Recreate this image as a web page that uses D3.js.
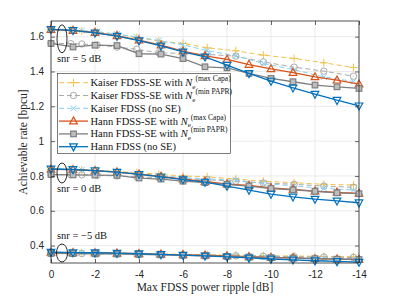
<!DOCTYPE html>
<html>
<head>
<meta charset="utf-8">
<script src="https://cdn.jsdelivr.net/npm/d3@7"></script>
<style>
  body { margin: 0; background: #fff; }
  svg { display: block; }
</style>
</head>
<body>
<div id="chart"></div>
<script>
"use strict";
// x values (max FDSS power ripple in dB)
const hannX = [0, -1, -2, -3, -4, -5, -6, -7, -8, -9, -10, -11, -12, -13, -14]
const kaiserX = [0, -0.9, -1.4, -2.1, -3.0, -3.9, -4.9, -6.0, -7.1, -8.4, -9.65, -11.05, -12.4, -13.75]

// snr = 5 dB
const hannMaxCapa5 = [1.641, 1.635, 1.624, 1.605, 1.58, 1.551, 1.517, 1.49, 1.469, 1.44, 1.415, 1.394, 1.369, 1.35, 1.327]
const hannMinPapr5 = [1.561, 1.541, 1.551, 1.549, 1.502, 1.5, 1.474, 1.427, 1.421, 1.389, 1.36, 1.341, 1.322, 1.312, 1.303]
const hannNoSE5 = [1.642, 1.636, 1.622, 1.603, 1.577, 1.547, 1.512, 1.484, 1.436, 1.389, 1.345, 1.306, 1.27, 1.235, 1.203]
const kaiserMaxCapa5 = [1.642, 1.638, 1.633, 1.626, 1.612, 1.595, 1.576, 1.561, 1.536, 1.519, 1.494, 1.475, 1.45, 1.423]
const kaiserMinPapr5 = [1.562, 1.56, 1.558, 1.552, 1.54, 1.528, 1.507, 1.504, 1.498, 1.488, 1.455, 1.425, 1.402, 1.373]
const kaiserNoSE5 = [1.645, 1.64, 1.635, 1.628, 1.615, 1.598, 1.578, 1.553, 1.52, 1.49, 1.446, 1.41, 1.369, 1.343]

// snr = 0 dB
const hannMaxCapa0 = [0.838, 0.836, 0.83, 0.822, 0.81, 0.797, 0.782, 0.768, 0.753, 0.746, 0.732, 0.723, 0.713, 0.706, 0.70]
const hannMinPapr0 = [0.808, 0.806, 0.805, 0.803, 0.788, 0.782, 0.77, 0.762, 0.752, 0.742, 0.728, 0.72, 0.712, 0.703, 0.698]
const hannNoSE0 = [0.84, 0.837, 0.831, 0.822, 0.809, 0.795, 0.779, 0.765, 0.742, 0.719, 0.696, 0.68, 0.667, 0.657, 0.646]
const kaiserMaxCapa0 = [0.838, 0.836, 0.834, 0.831, 0.826, 0.819, 0.81, 0.8, 0.795, 0.782, 0.77, 0.761, 0.752, 0.748]
const kaiserMinPapr0 = [0.808, 0.807, 0.806, 0.804, 0.8, 0.795, 0.79, 0.785, 0.778, 0.77, 0.76, 0.752, 0.742, 0.735]
const kaiserNoSE0 = [0.84, 0.838, 0.835, 0.83, 0.823, 0.814, 0.803, 0.79, 0.783, 0.776, 0.757, 0.742, 0.729, 0.719]

// snr = -5 dB
const hannMaxCapaM5 = [0.361, 0.359, 0.358, 0.356, 0.353, 0.35, 0.347, 0.345, 0.341, 0.336, 0.332, 0.329, 0.325, 0.322, 0.32]
const hannMinPaprM5 = [0.355, 0.354, 0.353, 0.352, 0.35, 0.347, 0.344, 0.341, 0.338, 0.334, 0.331, 0.328, 0.325, 0.322, 0.32]
const hannNoSEM5 = [0.362, 0.36, 0.359, 0.357, 0.353, 0.349, 0.345, 0.341, 0.335, 0.329, 0.323, 0.318, 0.313, 0.309, 0.305]
const kaiserMaxCapaM5 = [0.36, 0.359, 0.358, 0.357, 0.356, 0.354, 0.352, 0.35, 0.347, 0.345, 0.342, 0.34, 0.338, 0.336]
const kaiserMinPaprM5 = [0.355, 0.355, 0.354, 0.353, 0.352, 0.35, 0.348, 0.346, 0.344, 0.341, 0.339, 0.336, 0.334, 0.332]
const kaiserNoSEM5 = [0.361, 0.36, 0.359, 0.357, 0.355, 0.352, 0.349, 0.346, 0.343, 0.339, 0.335, 0.331, 0.328, 0.325]

const xTicks = [0, -2, -4, -6, -8, -10, -12, -14]
const yTicks = [0.4, 0.6, 0.8, 1, 1.2, 1.4, 1.6]
const snrLabels = ["snr = 5 dB", "snr = 0 dB", "snr = \u22125 dB"]

// series styles, in legend order
const series = [
    { name: "Kaiser FDSS-SE with ", sup: "(max Capa)", color: "#f2c14e", dash: "5,3", marker: "plus", width: 1, x: kaiserX, ys: [kaiserMaxCapa5, kaiserMaxCapa0, kaiserMaxCapaM5] },
    { name: "Kaiser FDSS-SE with ", sup: "(min PAPR)", color: "#aaaaaa", dash: "5,3", marker: "circle", width: 1, x: kaiserX, ys: [kaiserMinPapr5, kaiserMinPapr0, kaiserMinPaprM5] },
    { name: "Kaiser FDSS (no SE)", sup: null, color: "#86cff2", dash: "5,3", marker: "cross", width: 1, x: kaiserX, ys: [kaiserNoSE5, kaiserNoSE0, kaiserNoSEM5] },
    { name: "Hann FDSS-SE with ", sup: "(max Capa)", color: "#d95319", dash: null, marker: "triUp", width: 1.3, x: hannX, ys: [hannMaxCapa5, hannMaxCapa0, hannMaxCapaM5] },
    { name: "Hann FDSS-SE with ", sup: "(min PAPR)", color: "#7f7f7f", dash: null, marker: "square", width: 1.3, x: hannX, ys: [hannMinPapr5, hannMinPapr0, hannMinPaprM5] },
    { name: "Hann FDSS (no SE)", sup: null, color: "#0072bd", dash: null, marker: "triDown", width: 1.3, x: hannX, ys: [hannNoSE5, hannNoSE0, hannNoSEM5] }
]

const W = 397, H = 297
const plot = { left: 51, right: 359, top: 21, bottom: 263 }

const svg = d3.select("#chart").append("svg")
    .attr("width", W)
    .attr("height", H)

const scaleX = d3.scaleLinear().domain([0, -14]).range([plot.left, plot.right])
const scaleY = d3.scaleLinear().domain([0.3, 1.69]).range([plot.bottom, plot.top])

// grid
const grid = svg.append("g")
grid.selectAll(".gx").data(xTicks).enter().append("line")
    .attr("x1", d => scaleX(d)).attr("x2", d => scaleX(d))
    .attr("y1", plot.top).attr("y2", plot.bottom)
    .attr("stroke", "#e6e6e6").attr("stroke-width", 0.8)
grid.selectAll(".gy").data(yTicks).enter().append("line")
    .attr("x1", plot.left).attr("x2", plot.right)
    .attr("y1", d => scaleY(d)).attr("y2", d => scaleY(d))
    .attr("stroke", "#e6e6e6").attr("stroke-width", 0.8)

// draws one marker shape at (cx, cy)
function drawMarker(g, type, cx, cy, color) {
    if (type === "plus") {
        g.append("path").attr("d", `M${cx - 4},${cy}H${cx + 4}M${cx},${cy - 4}V${cy + 4}`)
            .attr("stroke", color).attr("stroke-width", 1).attr("fill", "none")
    } else if (type === "cross") {
        g.append("path").attr("d", `M${cx - 3},${cy - 3}L${cx + 3},${cy + 3}M${cx - 3},${cy + 3}L${cx + 3},${cy - 3}`)
            .attr("stroke", color).attr("stroke-width", 1).attr("fill", "none")
    } else if (type === "circle") {
        g.append("circle").attr("cx", cx).attr("cy", cy).attr("r", 3.2)
            .attr("stroke", color).attr("stroke-width", 1).attr("fill", "none")
    } else if (type === "square") {
        g.append("rect").attr("x", cx - 2.8).attr("y", cy - 2.8).attr("width", 5.6).attr("height", 5.6)
            .attr("stroke", color).attr("stroke-width", 1.2).attr("fill", "#bdbdbd")
    } else if (type === "triUp") {
        g.append("path").attr("d", `M${cx},${cy - 4.2}L${cx + 3.8},${cy + 2.8}L${cx - 3.8},${cy + 2.8}Z`)
            .attr("stroke", color).attr("stroke-width", 1.2).attr("fill", "none")
    } else if (type === "triDown") {
        g.append("path").attr("d", `M${cx},${cy + 4.2}L${cx + 3.8},${cy - 2.8}L${cx - 3.8},${cy - 2.8}Z`)
            .attr("stroke", color).attr("stroke-width", 1.2).attr("fill", "none")
    }
}

// curves
const curves = svg.append("g")
const line = d3.line().x(d => scaleX(d[0])).y(d => scaleY(d[1]))
series.forEach(s => {
    s.ys.forEach(ys => {
        const pts = s.x.map((x, i) => [x, ys[i]])
        curves.append("path")
            .attr("d", line(pts))
            .attr("fill", "none")
            .attr("stroke", s.color)
            .attr("stroke-width", s.width)
            .attr("stroke-dasharray", s.dash)
        pts.forEach(p => drawMarker(curves, s.marker, scaleX(p[0]), scaleY(p[1]), s.color))
    })
})

// axes box + ticks
const axisColor = "#262626"
const xAxis = d3.axisBottom(scaleX).tickValues(xTicks).tickSize(-4).tickPadding(8).tickFormat(d => d === 0 ? "0" : "-" + Math.abs(d))
const yAxis = d3.axisLeft(scaleY).tickValues(yTicks).tickSize(-4).tickPadding(7).tickFormat(d3.format("~g"))
const xTop = d3.axisTop(scaleX).tickValues(xTicks).tickSize(-4).tickFormat("")
const yRight = d3.axisRight(scaleY).tickValues(yTicks).tickSize(-4).tickFormat("")

function styleAxis(g) {
    g.select(".domain").remove()
    g.selectAll("line").attr("stroke", axisColor).attr("stroke-width", 0.7)
    g.selectAll("text").attr("fill", axisColor).style("font-family", "Liberation Sans, Arial, sans-serif").style("font-size", "10px")
}
svg.append("g").attr("transform", `translate(0,${plot.bottom})`).call(xAxis).call(styleAxis)
svg.append("g").attr("transform", `translate(${plot.left},0)`).call(yAxis).call(styleAxis)
svg.append("g").attr("transform", `translate(0,${plot.top})`).call(xTop).call(styleAxis)
svg.append("g").attr("transform", `translate(${plot.right},0)`).call(yRight).call(styleAxis)
svg.append("rect")
    .attr("x", plot.left).attr("y", plot.top)
    .attr("width", plot.right - plot.left).attr("height", plot.bottom - plot.top)
    .attr("fill", "none").attr("stroke", axisColor).attr("stroke-width", 0.8)

const serif = "Liberation Serif, 'Times New Roman', serif"

// axis labels
svg.append("text")
    .attr("x", (plot.left + plot.right) / 2).attr("y", 291)
    .attr("text-anchor", "middle")
    .style("font-family", serif).style("font-size", "11.5px").attr("fill", axisColor)
    .text("Max FDSS power ripple [dB]")
svg.append("text")
    .attr("transform", `translate(27,${(plot.top + plot.bottom) / 2}) rotate(-90)`)
    .attr("text-anchor", "middle")
    .style("font-family", serif).style("font-size", "11.5px").attr("fill", axisColor)
    .text("Achievable rate [bpcu]")

// snr annotations: ellipse around the x=0 points and a label
const ellipseCx = scaleX(-0.5)
svg.append("ellipse").attr("cx", ellipseCx).attr("cy", 38.8).attr("rx", 5).attr("ry", 14)
    .attr("fill", "none").attr("stroke", "#111").attr("stroke-width", 0.9)
svg.append("ellipse").attr("cx", ellipseCx).attr("cy", 173).attr("rx", 5).attr("ry", 10)
    .attr("fill", "none").attr("stroke", "#111").attr("stroke-width", 0.9)
svg.append("ellipse").attr("cx", ellipseCx).attr("cy", 253).attr("rx", 5.5).attr("ry", 9)
    .attr("fill", "none").attr("stroke", "#111").attr("stroke-width", 0.9)
const labelY = [62, 192, 239]
snrLabels.forEach((t, i) => {
    svg.append("text")
        .attr("x", 57).attr("y", labelY[i])
        .style("font-family", serif).style("font-size", "10.5px").attr("fill", "#111")
        .text(t)
})

// legend
const legend = svg.append("g")
const lg = { x: 57.5, y: 73.5, w: 173, h: 80, rowH: 12.8, first: 82.7 }
legend.append("rect")
    .attr("x", lg.x).attr("y", lg.y).attr("width", lg.w).attr("height", lg.h)
    .attr("fill", "#fff").attr("stroke", axisColor).attr("stroke-width", 0.6)
series.forEach((s, i) => {
    const cy = lg.first + i * lg.rowH
    legend.append("line")
        .attr("x1", 59).attr("x2", 88).attr("y1", cy).attr("y2", cy)
        .attr("stroke", s.color).attr("stroke-width", s.width)
        .attr("stroke-dasharray", s.dash)
    drawMarker(legend, s.marker, 73.5, cy, s.color)
    const t = legend.append("text")
        .attr("x", 90.5).attr("y", cy + 3.5)
        .style("font-family", serif).style("font-size", "10.5px").attr("fill", "#111")
    t.append("tspan").text(s.name)
    if (s.sup) {
        t.append("tspan").style("font-style", "italic").text("N")
        t.append("tspan").attr("dy", 2.5).style("font-size", "7px").text("e")
        t.append("tspan").attr("dy", -7.5).style("font-size", "7.5px").text(s.sup)
    }
})
</script>
</body>
</html>
